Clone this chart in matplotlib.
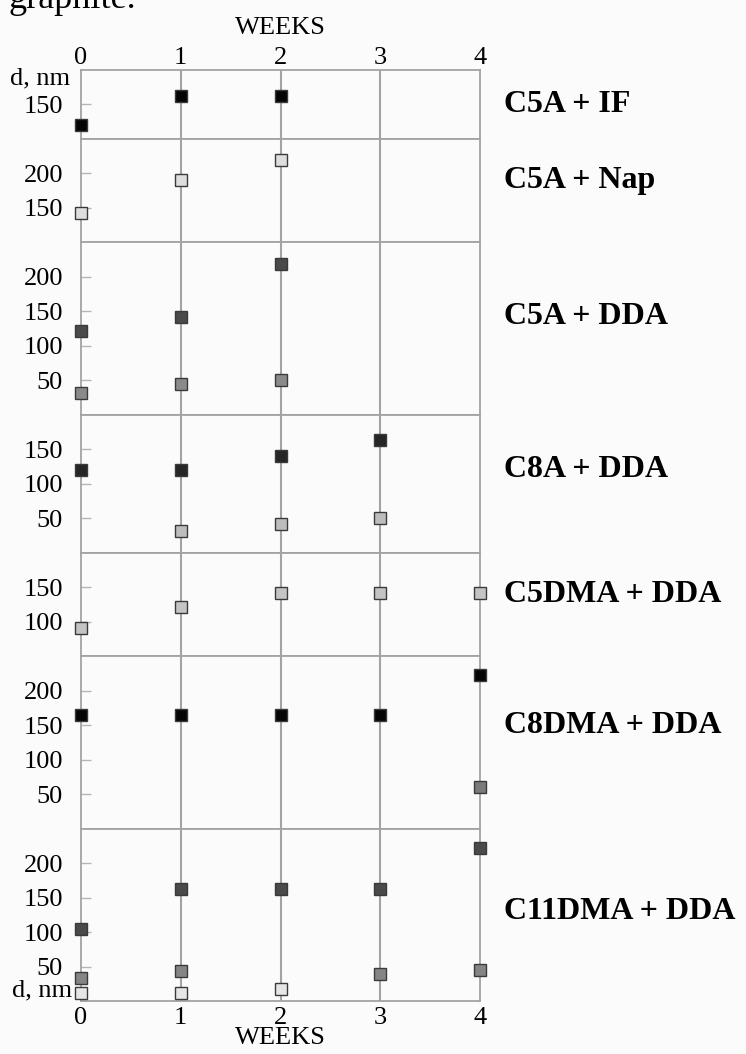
import matplotlib.pyplot as plt
from matplotlib.gridspec import GridSpec

plt.rcParams['font.family'] = ['Liberation Serif', 'DejaVu Serif']

# %% data (d, nm vs weeks)
weeks = [0, 1, 2, 3, 4]
panel_labels = ['C5A + IF', 'C5A + Nap', 'C5A + DDA', 'C8A + DDA',
                'C5DMA + DDA', 'C8DMA + DDA', 'C11DMA + DDA']
y_lims = [(100, 200), (100, 250), (0, 250), (0, 200), (50, 200), (0, 250), (0, 250)]
y_ticks = [[150], [150, 200], [50, 100, 150, 200], [50, 100, 150],
           [100, 150], [50, 100, 150, 200], [50, 100, 150, 200]]

c5a_if_weeks = [0, 1, 2]
c5a_if_d = [120, 163, 163]

c5a_nap_weeks = [0, 1, 2]
c5a_nap_d = [142, 190, 220]

c5a_dda_weeks = [0, 1, 2]
c5a_dda_big = [121, 142, 219]
c5a_dda_small = [32, 44, 50]

c8a_dda_big_weeks = [0, 1, 2, 3]
c8a_dda_big = [120, 120, 140, 163]
c8a_dda_small_weeks = [1, 2, 3]
c8a_dda_small = [32, 42, 50]

c5dma_dda_weeks = [0, 1, 2, 3, 4]
c5dma_dda_d = [91, 121, 142, 142, 142]

c8dma_dda_weeks = [0, 1, 2, 3, 4]
c8dma_dda_big = [164, 164, 164, 164, 222]
c8dma_dda_small_weeks = [4]
c8dma_dda_small = [60]

c11dma_dda_weeks = [0, 1, 2, 3, 4]
c11dma_dda_big = [105, 163, 163, 163, 222]
c11dma_dda_mid_weeks = [0, 1, 3, 4]
c11dma_dda_mid = [34, 44, 39, 45]
c11dma_dda_small_weeks = [0, 1, 2]
c11dma_dda_small = [11, 11, 18]

# (panel index, x, y, face colour)
series = [
    (0, c5a_if_weeks, c5a_if_d, '#050505'),
    (1, c5a_nap_weeks, c5a_nap_d, '#dedede'),
    (2, c5a_dda_weeks, c5a_dda_big, '#4a4a4a'),
    (2, c5a_dda_weeks, c5a_dda_small, '#8a8a8a'),
    (3, c8a_dda_big_weeks, c8a_dda_big, '#262626'),
    (3, c8a_dda_small_weeks, c8a_dda_small, '#bdbdbd'),
    (4, c5dma_dda_weeks, c5dma_dda_d, '#c4c4c4'),
    (5, c8dma_dda_weeks, c8dma_dda_big, '#050505'),
    (5, c8dma_dda_small_weeks, c8dma_dda_small, '#7a7a7a'),
    (6, c11dma_dda_weeks, c11dma_dda_big, '#4a4a4a'),
    (6, c11dma_dda_mid_weeks, c11dma_dda_mid, '#858585'),
    (6, c11dma_dda_small_weeks, c11dma_dda_small, '#e6e6e6'),
]

# label vertical position inside each panel (axes fraction)
label_frac = [0.5, 0.6, 0.57, 0.6, 0.6, 0.6, 0.52]

# %% figure
bg = '#fbfbfb'
grey = '#a3a3a3'
fs = 19
fig = plt.figure(figsize=(7.46, 10.54), dpi=100, facecolor=bg)
ratios = [hi - lo for lo, hi in y_lims]
gs = GridSpec(len(y_lims), 1, figure=fig, height_ratios=ratios, hspace=0,
              left=81/746, right=480/746, top=1 - 70/1054, bottom=1 - 1001/1054)
axes = [fig.add_subplot(gs[i]) for i in range(len(y_lims))]

for i, ax in enumerate(axes):
    ax.set_facecolor(bg)
    ax.set_xlim(0, 4)
    ax.set_ylim(*y_lims[i])
    ax.set_yticks(y_ticks[i])
    ax.tick_params(axis='y', direction='in', length=7, width=1, color='#b5b5b5',
                   pad=13, labelsize=fs)
    ax.set_xticks(weeks)
    ax.tick_params(axis='x', length=0, labelsize=fs, pad=1)
    if i == 0:
        ax.xaxis.set_ticks_position('top')
        ax.xaxis.set_label_position('top')
    elif i != len(axes) - 1:
        ax.tick_params(axis='x', labelbottom=False)
    else:
        ax.tick_params(axis='x', pad=4)
    for w in weeks[1:-1]:
        ax.axvline(w, color=grey, lw=1.5, zorder=1)
    for sp in ax.spines.values():
        sp.set_color(grey)
        sp.set_linewidth(1.3)
    ax.text(1.06, label_frac[i], panel_labels[i], transform=ax.transAxes,
            fontsize=23, fontweight='bold', va='center', ha='left')

for idx, xs, ys, fc in series:
    axes[idx].plot(xs, ys, ls='none', marker='s', ms=8, mfc=fc, mec='#3a3a3a',
                   mew=1.0, clip_on=False, zorder=5)

axes[0].set_xlabel('WEEKS', fontsize=fs, labelpad=9)
axes[-1].set_xlabel('WEEKS', fontsize=fs, labelpad=-1)

fig.text(10/746, 1 - 78/1054, 'd, nm', fontsize=fs, va='center', ha='left')
fig.text(12/746, 1 - 990/1054, 'd, nm', fontsize=fs, va='center', ha='left')
fig.text(8/746, 1 - 8/1054, 'graphite.', fontsize=26, va='baseline', ha='left')

fig.savefig('out.png', dpi=100, facecolor=bg)
